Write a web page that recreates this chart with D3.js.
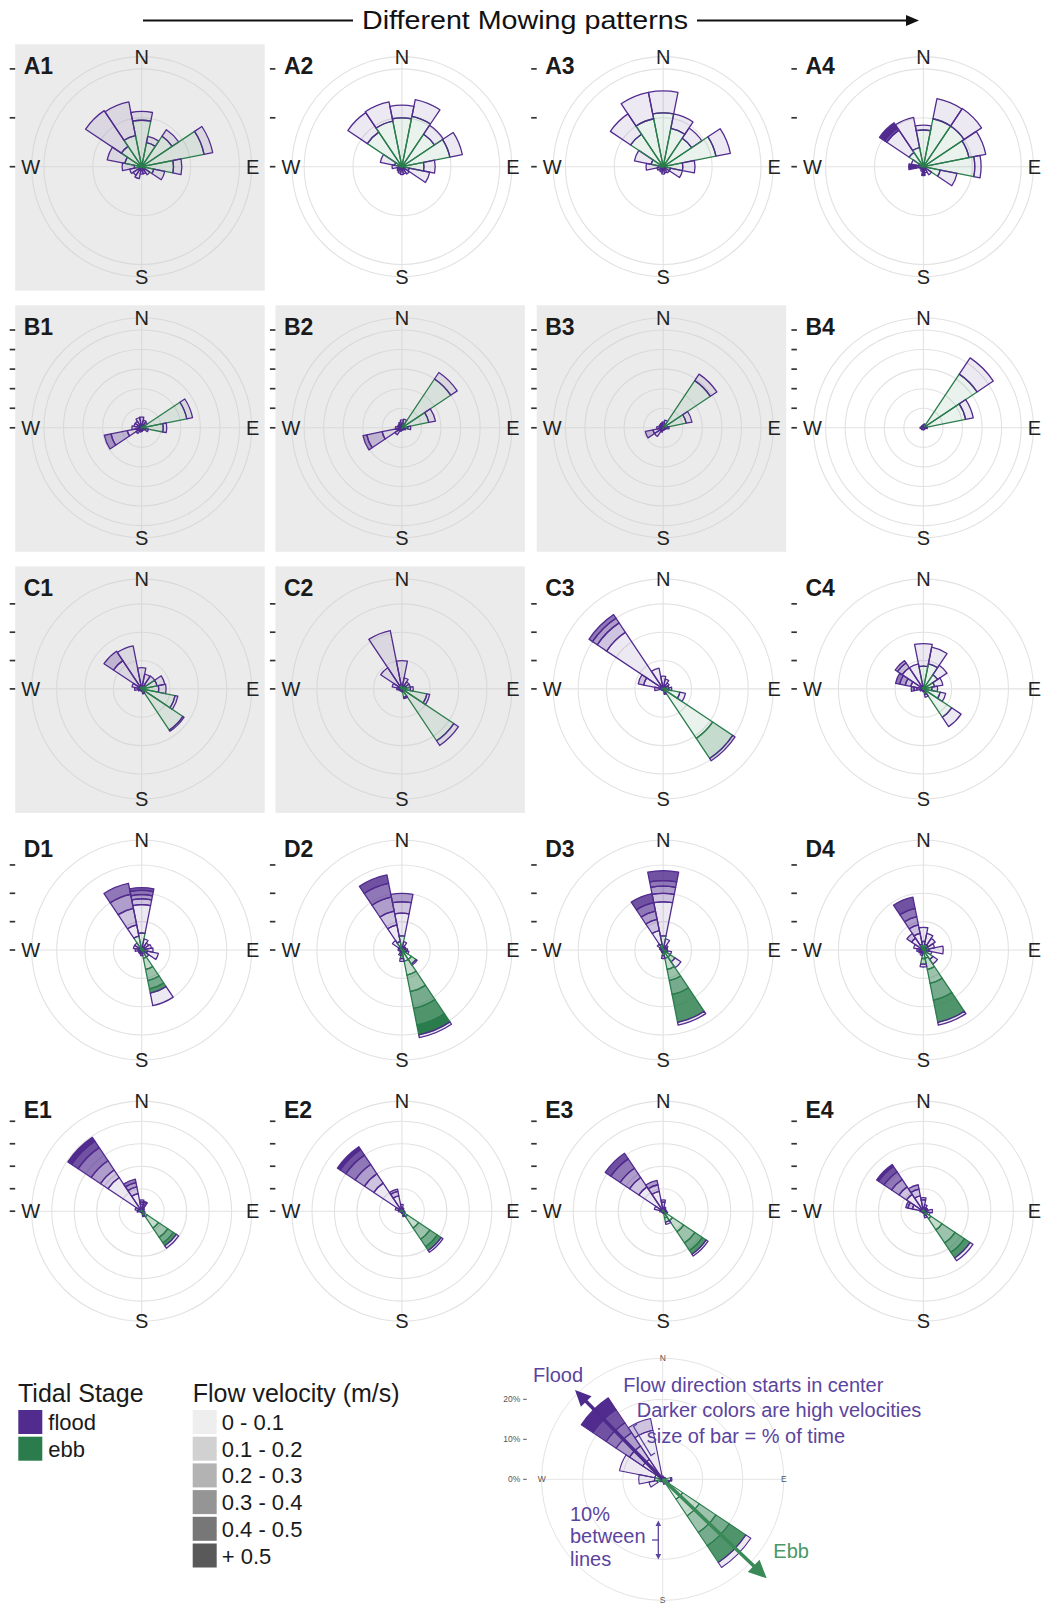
<!DOCTYPE html>
<html><head><meta charset="utf-8">
<script src="https://cdn.jsdelivr.net/npm/d3@7"></script>
<style>body{margin:0;background:#fff;} svg{display:block;font-family:"Liberation Sans",Arial,Helvetica,sans-serif;}</style>
</head><body><svg id="chart" width="1043" height="1607"></svg>
<script>
// ---------------- DATA ----------------
const directions = ["N","NNE","NE","ENE","E","ESE","SE","SSE","S","SSW","SW","WSW","W","WNW","NW","NNW"];
const velocityBins = ["0 - 0.1","0.1 - 0.2","0.2 - 0.3","0.3 - 0.4","0.4 - 0.5","+ 0.5"];
const stageNames = ["flood","ebb"];
const panelRows = [["A1","A2","A3","A4"],["B1","B2","B3","B4"],["C1","C2","C3","C4"],["D1","D2","D3","D4"],["E1","E2","E3","E4"]];
const greyPanels = ["A1","B1","B2","B3","C1","C2"];
const rowRangePct = [20, 50, 34.5, 34.5, 43.5];   // radial range (% of time) per row
const breakStepPct = 10;                           // 10% between lines
const compassLabels = ["N","E","S","W"];
const insetTickLabels = ["0%","10%","20%"];
const insetRangePct = 26.9;

// each entry: [direction, ebb % per velocity bin, flood % per velocity bin]
const A1 = [["N",[9.5],[1.8]],["NNE",[5],[1.3]],["NE",[7.5],[1.6]],["ENE",[13],[1.8]],["E",[6.5],[1.7]],["ESE",[2.5],[2.3]],["SE",[0.8],[1.2]],["SSE",[0.5],[1]],["S",[0.3],[1.2]],["SSW",[0.3],[2.2]],["SW",[0.3],[1.8]],["WSW",[0.5],[2]],["W",[1.5],[2.5]],["WNW",[3.5],[3.7]],["NW",[5],[8.8]],["NNW",[6.5],[7]]];
const A2 = [["N",[10],[2.6]],["NNE",[10.5],[3.5]],["NE",[8],[2.2]],["ENE",[10],[2.6]],["E",[4.5],[2.3]],["ESE",[1.5],[4.3]],["SE",[0.3],[1.5]],["SSE",[0.3],[1.2]],["S",[0.3],[1.3]],["SSW",[0.2],[1.2]],["SW",[0.2],[1]],["WSW",[0.2],[0.8]],["W",[0.5],[1.5]],["WNW",[1.5],[3]],["NW",[8.5],[4.8]],["NNW",[9.5],[4]]];
const A3 = [["N",[11],[4.5]],["NNE",[8],[3]],["NE",[7],[2.5]],["ENE",[11],[3]],["E",[4],[2.5]],["ESE",[1.5],[2.5]],["SE",[0.3],[1.2]],["SSE",[0.3],[1]],["S",[0.3],[1.2]],["SSW",[0.2],[1]],["SW",[0.2],[0.8]],["WSW",[0.3],[1]],["W",[1],[2.5]],["WNW",[2.5],[3.5]],["NW",[8],[5]],["NNW",[10],[5.5]]];
const A4 = [["N",[7.5],[1]],["NNE",[10],[4.2]],["NE",[10],[4.3]],["ENE",[9.5],[3.5]],["E",[10.5],[1.3]],["ESE",[3.5],[3.5]],["SE",[0.5],[1.5]],["SSE",[0.3],[1]],["S",[0.3],[0.5,0,0,0,0,1]],["SSW",[0.2],[0.8]],["SW",[0.2],[0.5]],["WSW",[0.2],[0.6]],["W",[0.5],[0.5,0,0,0,0.5,1.5]],["WNW",[1],[1.5]],["NW",[3.5],[5.5,0,0,0,0.5,1.3]],["NNW",[4],[6.3]]];
const B1 = [["N",[1],[4.5]],["NNE",[1],[3]],["NE",[1.5],[2]],["ENE",[23.5],[3]],["E",[11],[1.8]],["ESE",[2],[1.5]],["SE",[0.5],[1]],["SSE",[0.3],[1]],["S",[0.3],[1.5]],["SSW",[0.3],[2]],["SW",[0.5],[3]],["WSW",[0.5],[7,8.5,3.5]],["W",[0.5],[4.5]],["WNW",[0.5],[3.5]],["NW",[0.5],[3.5]],["NNW",[0.8],[4.5]]];
const B2 = [["N",[1],[3]],["NNE",[2],[2.5]],["NE",[30],[4]],["ENE",[14],[3.5]],["E",[3],[1.5]],["ESE",[1],[1]],["SE",[0.3],[1]],["SSE",[0.3],[0.8]],["S",[0.3],[1]],["SSW",[0.3],[1.5]],["SW",[0.3],[4]],["WSW",[0.3],[10,8,2]],["W",[0.3],[3]],["WNW",[0.3],[2]],["NW",[0.3],[2]],["NNW",[0.5],[2.5]]];
const B3 = [["N",[1],[2]],["NNE",[2],[2]],["NE",[29],[4]],["ENE",[12],[3]],["E",[2],[1]],["ESE",[0.5],[1]],["SE",[0.3],[0.8]],["SSE",[0.3],[0.8]],["S",[0.3],[1]],["SSW",[0.3],[2]],["SW",[0.3],[5]],["WSW",[0.3],[5,4]],["W",[0.3],[3]],["WNW",[0.3],[2]],["NW",[0.3],[2]],["NNW",[0.5],[2]]];
const B4 = [["N",[0.5],[1]],["NNE",[1],[1]],["NE",[33],[10]],["ENE",[22],[4]],["E",[1],[1]],["ESE",[0.3],[0.5]],["SE",[0.2],[0.8]],["SSE",[0.2],[0.8]],["S",[0.2],[0.8]],["SSW",[0.2],[0.8]],["SW",[0.2],[1]],["WSW",[0.2],[1]],["W",[0.2],[1.5]],["WNW",[0.2],[1]],["NW",[0.2],[1]],["NNW",[0.3],[1]]];
const C1 = [["N",[1],[6.5]],["NNE",[1],[4.3]],["NE",[1.5],[4]],["ENE",[5.5],[2.8]],["E",[6],[2.6]],["ESE",[12],[1]],["SE",[17.5],[0.5]],["SSE",[1.5],[0.3]],["S",[0.5],[0.3]],["SSW",[0.3],[0.3]],["SW",[0.3],[0.5]],["WSW",[0.3],[1]],["W",[0.5],[2]],["WNW",[0.5],[3]],["NW",[1],[11,4]],["NNW",[1],[14.5]]];
const C2 = [["N",[1],[9]],["NNE",[1],[3]],["NE",[1],[2]],["ENE",[1.5],[1.5]],["E",[3],[1]],["ESE",[9],[1]],["SE",[22],[2]],["SSE",[3],[0.5]],["S",[0.5],[0.5]],["SSW",[0.3],[0.5]],["SW",[0.3],[0.5]],["WSW",[0.3],[0.8]],["W",[0.3],[1.5]],["WNW",[0.5],[3]],["NW",[1],[8]],["NNW",[1.5],[19.5]]];
const C3 = [["N",[0.5],[4]],["NNE",[0.5],[3]],["NE",[0.5],[2]],["ENE",[1],[1]],["E",[2],[1]],["ESE",[6],[2]],["SE",[21,8.5],[1]],["SSE",[1.5],[0.5]],["S",[0.3],[0.3]],["SSW",[0.3],[0.3]],["SW",[0.3],[0.3]],["WSW",[0.3],[0.5]],["W",[0.5],[2.5]],["WNW",[1],[6,2]],["NW",[1],[23,4,2,1.5]],["NNW",[0.5],[7]]];
const C4 = [["N",[8],[8]],["NNE",[9],[6]],["NE",[6],[4]],["ENE",[4],[3]],["E",[3],[2]],["ESE",[6],[2]],["SE",[12],[4]],["SSE",[2],[1]],["S",[0.5],[0.5]],["SSW",[0.3],[0.5]],["SW",[0.3],[0.5]],["WSW",[0.3],[1]],["W",[0.3],[2,1,1]],["WNW",[0.5],[4,2,2,1.5]],["NW",[1],[8,2,1]],["NNW",[1],[8]]];
const D1 = [["N",[6],[10,2,1.5,1.5,1]],["NNE",[1],[3]],["NE",[1],[2]],["ENE",[1],[2.5]],["E",[1],[3]],["ESE",[2],[4]],["SE",[1],[2]],["SSE",[3,4,4,3,1.5],[4.5]],["S",[1],[1]],["SSW",[0.5],[1]],["SW",[0.3],[1]],["WSW",[0.3],[1]],["W",[0.3],[2]],["WNW",[0.5],[2.5]],["NW",[1],[2]],["NNW",[5],[4,6,5,4]]];
const D2 = [["N",[5],[8,4,3]],["NNE",[1],[2]],["NE",[0.5],[1]],["ENE",[0.5],[1]],["E",[1],[1]],["ESE",[1.5],[1]],["SE",[4,2],[0.5]],["SSE",[4,5,6,6,6,3.5],[1]],["S",[2,1],[1]],["SSW",[1],[1]],["SW",[0.3],[0.5]],["WSW",[0.3],[0.5]],["W",[0.3],[1]],["WNW",[0.3],[1]],["NW",[1],[3]],["NNW",[3],[6,5,5,5,3]]];
const D3 = [["N",[5],[12,3,2.5,2,3.5]],["NNE",[1],[3]],["NE",[0.5],[1.5]],["ENE",[0.5],[1]],["E",[0.5],[1]],["ESE",[1.5],[1.5]],["SE",[3,2],[2.5]],["SSE",[3,4,4,5,10],[1]],["S",[2],[1]],["SSW",[0.5],[0.5]],["SW",[0.3],[0.5]],["WSW",[0.3],[0.5]],["W",[0.3],[0.5]],["WNW",[0.3],[1]],["NW",[0.5],[2]],["NNW",[2],[5,4,3,3,3.3]]];
const D4 = [["N",[3],[5]],["NNE",[2],[4]],["NE",[2],[3]],["ENE",[1],[3]],["E",[2],[5]],["ESE",[1],[2]],["SE",[4],[2]],["SSE",[3,4,5,6,8],[1]],["S",[3,2],[1]],["SSW",[1],[1]],["SW",[0.3],[1]],["WSW",[0.3],[1.5]],["W",[0.3],[2]],["WNW",[0.5],[3]],["NW",[1],[4,2]],["NNW",[2],[4,3,3,3,4]]];
const E1 = [["N",[1],[2,1,1]],["NNE",[1],[1,1,1,0.5]],["NE",[0.5],[1]],["ENE",[0.5],[0.5]],["E",[0.5],[0.5]],["ESE",[1],[0.5]],["SE",[3,6,5,3,1.5],[1.3]],["SSE",[2],[0.5]],["S",[0.5],[0.3]],["SSW",[0.3],[0.3]],["SW",[0.3],[0.3]],["WSW",[0.3],[0.5]],["W",[0.5],[1.5]],["WNW",[1],[2]],["NW",[1],[17,4,5,7,3.5,2]],["NNW",[1],[7,3,2,1.5]]];
const E2 = [["N",[1],[2]],["NNE",[0.5],[1]],["NE",[0.5],[0.5]],["ENE",[0.3],[0.5]],["E",[0.5],[0.5]],["ESE",[1],[0.5]],["SE",[3,6,6,4,2],[1]],["SSE",[2],[0.5]],["S",[0.5],[0.5]],["SSW",[0.3],[0.3]],["SW",[0.3],[0.3]],["WSW",[0.3],[0.5]],["W",[0.5],[1]],["WNW",[1],[2]],["NW",[1],[14,5,5,5,3,1.5]],["NNW",[1],[6,2,1]]];
const E3 = [["N",[1],[3,1]],["NNE",[0.5],[1.5]],["NE",[0.5],[1]],["ENE",[0.5],[0.5]],["E",[0.5],[1]],["ESE",[1],[1]],["SE",[5,6,6,4,2],[1]],["SSE",[3,2],[1]],["S",[0.5],[0.5]],["SSW",[0.3],[0.3]],["SW",[0.3],[0.3]],["WSW",[0.3],[0.5]],["W",[0.5],[1]],["WNW",[1],[3]],["NW",[1],[12,5,5,5,3]],["NNW",[1],[8,3,2]]];
const E4 = [["N",[1],[4,1]],["NNE",[1],[2]],["NE",[0.5],[1.5]],["ENE",[0.5],[1.5]],["E",[1],[3]],["ESE",[1],[2]],["SE",[4,6,7,5,3],[1.5]],["SSE",[2],[1]],["S",[0.5],[0.5]],["SSW",[0.3],[0.3]],["SW",[0.3],[0.3]],["WSW",[0.3],[0.5]],["W",[0.5],[1]],["WNW",[1],[4,2,1]],["NW",[1],[8,4,4,4,3,1]],["NNW",[1],[6,3,2]]];
const insetData = [["N",[0.3],[0.5]],["NNE",[0.3],[0.3]],["NE",[0.3],[0.3]],["ENE",[0.5],[0.3]],["E",[2],[0.3]],["ESE",[1.5],[0.3]],["SE",[6,5,5,4,5],[1.5]],["SSE",[1],[0.3]],["S",[0.3],[0.3]],["SSW",[0.3],[0.3]],["SW",[0.3],[0.5]],["WSW",[1.5],[2]],["W",[2],[4]],["WNW",[2],[9]],["NW",[1],[5,4,4,3,4,3.5]],["NNW",[0.5],[12,3]]];
const panelData = {A1,A2,A3,A4,B1,B2,B3,B4,C1,C2,C3,C4,D1,D2,D3,D4,E1,E2,E3,E4};

// ---------------- STYLE / LAYOUT ----------------
const stageColor = {flood: "#512b8e", ebb: "#2a7c4c"};
const alphaByBin = [0.1, 0.28, 0.46, 0.64, 0.82, 1.0];
const colX = [141.7, 401.9, 663.2, 923.4];
const rowY = [166.7, 427.8, 688.9, 950.0, 1211.2];
const R04 = 97.8;

const svg = d3.select("#chart");
const angle = d3.scaleLinear().domain([0, directions.length]).range([0, 2 * Math.PI]);
const arc = d3.arc();

function segmentsFor(data) {
  const segs = [];
  data.forEach(([dir, ebb, flood]) => {
    const i = directions.indexOf(dir);
    let cum = 0;
    [["ebb", ebb], ["flood", flood]].forEach(([stage, bins]) => {
      bins.forEach((v, b) => {
        if (v > 0) { segs.push({i, stage, bin: b, r0: cum, r1: cum + v}); cum += v; }
      });
    });
  });
  return segs;
}

function drawRose(g, data, rangePct, r04, opt) {
  const r = d3.scaleLinear().domain([0, rangePct]).range([0, r04]);
  const outer = r04 * 0.45 / 0.4;
  const breaks = d3.range(0, rangePct + 1e-6, breakStepPct);
  const grid = g.append("g").attr("fill", "none").attr("stroke", opt.gridColor).attr("stroke-width", opt.gridWidth);
  grid.selectAll("circle").data(breaks.filter(b => b > 0).map(b => r(b)).concat([outer]))
    .join("circle").attr("r", d => d);
  grid.append("line").attr("x1", 0).attr("x2", 0).attr("y1", -outer).attr("y2", outer);
  grid.append("line").attr("x1", -outer).attr("x2", outer).attr("y1", 0).attr("y2", 0);

  g.append("g").selectAll("path").data(segmentsFor(data)).join("path")
    .attr("d", d => arc({innerRadius: r(d.r0), outerRadius: r(d.r1), startAngle: angle(d.i - 0.5), endAngle: angle(d.i + 0.5)}))
    .attr("fill", d => stageColor[d.stage])
    .attr("fill-opacity", d => alphaByBin[d.bin])
    .attr("stroke", d => stageColor[d.stage])
    .attr("stroke-width", opt.barStroke)
    .attr("stroke-linejoin", "round");

  const pos = [[0, -1], [1, 0], [0, 1], [-1, 0]];
  g.append("g").selectAll("text").data(compassLabels).join("text")
    .attr("x", (d, k) => pos[k][0] * (outer + opt.labelPadX))
    .attr("y", (d, k) => pos[k][1] * (outer + opt.labelPadY))
    .attr("text-anchor", "middle").attr("dominant-baseline", "central")
    .attr("font-size", opt.labelSize).attr("fill", opt.labelColor).text(d => d);
  return {r, outer, breaks};
}

// title
svg.append("line").attr("x1", 143).attr("x2", 353).attr("y1", 20.5).attr("y2", 20.5).attr("stroke", "#111").attr("stroke-width", 2);
svg.append("line").attr("x1", 697).attr("x2", 908).attr("y1", 20.5).attr("y2", 20.5).attr("stroke", "#111").attr("stroke-width", 2);
svg.append("path").attr("d", "M919,20.5 L906,15 L906,26 Z").attr("fill", "#111");
svg.append("text").attr("x", 525).attr("y", 29).attr("text-anchor", "middle").attr("font-size", 26)
  .attr("textLength", 326).attr("lengthAdjust", "spacingAndGlyphs").attr("fill", "#111").text("Different Mowing patterns");

// panels
panelRows.forEach((row, j) => {
  row.forEach((name, i) => {
    const g = svg.append("g").attr("transform", `translate(${colX[i]},${rowY[j]})`);
    const grey = greyPanels.includes(name);
    if (grey) g.append("rect").attr("x", -126.5).attr("y", -122.5).attr("width", 249.5).attr("height", 246.5).attr("fill", "#ebebeb");
    const res = drawRose(g, panelData[name], rowRangePct[j], R04, {
      gridColor: grey ? "#d9d9d9" : "#e2e2e2", gridWidth: 1.1, barStroke: 1.3,
      labelPadX: 1, labelPadY: 0, labelSize: 20, labelColor: "#222"
    });
    g.append("g").selectAll("line").data(res.breaks).join("line")
      .attr("x1", -132).attr("x2", -126.5).attr("y1", d => -res.r(d)).attr("y2", d => -res.r(d))
      .attr("stroke", "#333").attr("stroke-width", 1.7);
    g.append("text").attr("x", -118).attr("y", -93).attr("font-size", 23).attr("font-weight", "bold")
      .attr("fill", "#1a1a1a").text(name);
  });
});

// legend: tidal stage
svg.append("text").attr("x", 18).attr("y", 1401.7).attr("font-size", 25).attr("fill", "#1a1a1a").text("Tidal Stage");
svg.append("g").selectAll("rect").data(stageNames).join("rect")
  .attr("x", 18.3).attr("y", (d, k) => 1410 + k * 26.7).attr("width", 24).attr("height", 24)
  .attr("fill", d => stageColor[d]);
svg.append("g").selectAll("text").data(stageNames).join("text")
  .attr("x", 48.3).attr("y", (d, k) => 1430 + k * 26.7).attr("font-size", 22).attr("fill", "#1a1a1a").text(d => d);

// legend: flow velocity
svg.append("text").attr("x", 192.7).attr("y", 1401.7).attr("font-size", 25).attr("fill", "#1a1a1a").text("Flow velocity (m/s)");
svg.append("g").selectAll("rect").data(velocityBins).join("rect")
  .attr("x", 192.7).attr("y", (d, k) => 1410 + k * 26.7).attr("width", 24).attr("height", 24)
  .attr("fill", "#595959").attr("fill-opacity", (d, k) => alphaByBin[k]);
svg.append("g").selectAll("text").data(velocityBins).join("text")
  .attr("x", 221.7).attr("y", (d, k) => 1430 + k * 26.7).attr("font-size", 22).attr("fill", "#1a1a1a").text(d => d);

// inset explanation rose
const icx = 662.7, icy = 1479.3;
const ig = svg.append("g").attr("transform", `translate(${icx},${icy})`);
const ires = drawRose(ig, insetData, insetRangePct, 107.6, {
  gridColor: "#e4e4e4", gridWidth: 1, barStroke: 1.1, labelPadX: 0, labelPadY: 0, labelSize: 8.5, labelColor: "#555"
});
ig.append("g").selectAll("text").data(insetTickLabels).join("text")
  .attr("x", -142.5).attr("y", (d, k) => -ires.r(ires.breaks[k])).attr("dominant-baseline", "central")
  .attr("text-anchor", "end").attr("font-size", 8.5).attr("fill", "#555").text(d => d);
ig.append("g").selectAll("line").data(ires.breaks).join("line")
  .attr("x1", -139.5).attr("x2", -136).attr("y1", d => -ires.r(d)).attr("y2", d => -ires.r(d))
  .attr("stroke", "#555").attr("stroke-width", 1);

function arrow(x0, y0, x1, y1, color, w, headLen, headHalf) {
  const dx = x1 - x0, dy = y1 - y0, L = Math.hypot(dx, dy), ux = dx / L, uy = dy / L;
  const bx = x1 - ux * headLen, by = y1 - uy * headLen;
  svg.append("line").attr("x1", x0).attr("y1", y0).attr("x2", bx + ux).attr("y2", by + uy)
    .attr("stroke", color).attr("stroke-width", w);
  svg.append("path").attr("d", `M${x1},${y1} L${bx - uy * headHalf},${by + ux * headHalf} L${bx + uy * headHalf},${by - ux * headHalf} Z`).attr("fill", color);
}
arrow(icx, icy, 575, 1390, "#4d2b8c", 3.5, 16, 7.5);
arrow(icx, icy, 766.7, 1578.3, "#3a8a58", 3.5, 18, 8.5);

const fText = "#5b449d", eText = "#4a9866";
const ann = [
  ["Flood", 533, 1381.7, fText], ["Flow direction starts in center", 623.3, 1391.7, fText],
  ["Darker colors are high velocities", 636.7, 1417.3, fText], ["size of bar = % of time", 646.7, 1442.7, fText],
  ["10%", 570, 1520.7, fText], ["between", 570, 1543.3, fText], ["lines", 570, 1566, fText],
  ["Ebb", 773.3, 1558.3, eText]
];
svg.append("g").selectAll("text").data(ann).join("text")
  .attr("x", d => d[1]).attr("y", d => d[2]).attr("fill", d => d[3]).attr("font-size", 20).text(d => d[0]);

// bracket next to the bar
svg.append("path").attr("d", "M637,1424 L633.5,1426.5 L651,1455.5 L655,1453").attr("fill", "none").attr("stroke", fText).attr("stroke-width", 1.3);
// double arrow "10% between lines"
svg.append("line").attr("x1", 658.3).attr("x2", 658.3).attr("y1", 1523).attr("y2", 1557).attr("stroke", fText).attr("stroke-width", 1.3);
svg.append("path").attr("d", "M658.3,1520.5 L655.5,1526 L661.1,1526 Z M658.3,1559.5 L655.5,1554 L661.1,1554 Z").attr("fill", fText);
svg.append("line").attr("x1", 652).attr("x2", 658.3).attr("y1", 1540).attr("y2", 1540).attr("stroke", fText).attr("stroke-width", 1.3);
</script>
</body></html>
